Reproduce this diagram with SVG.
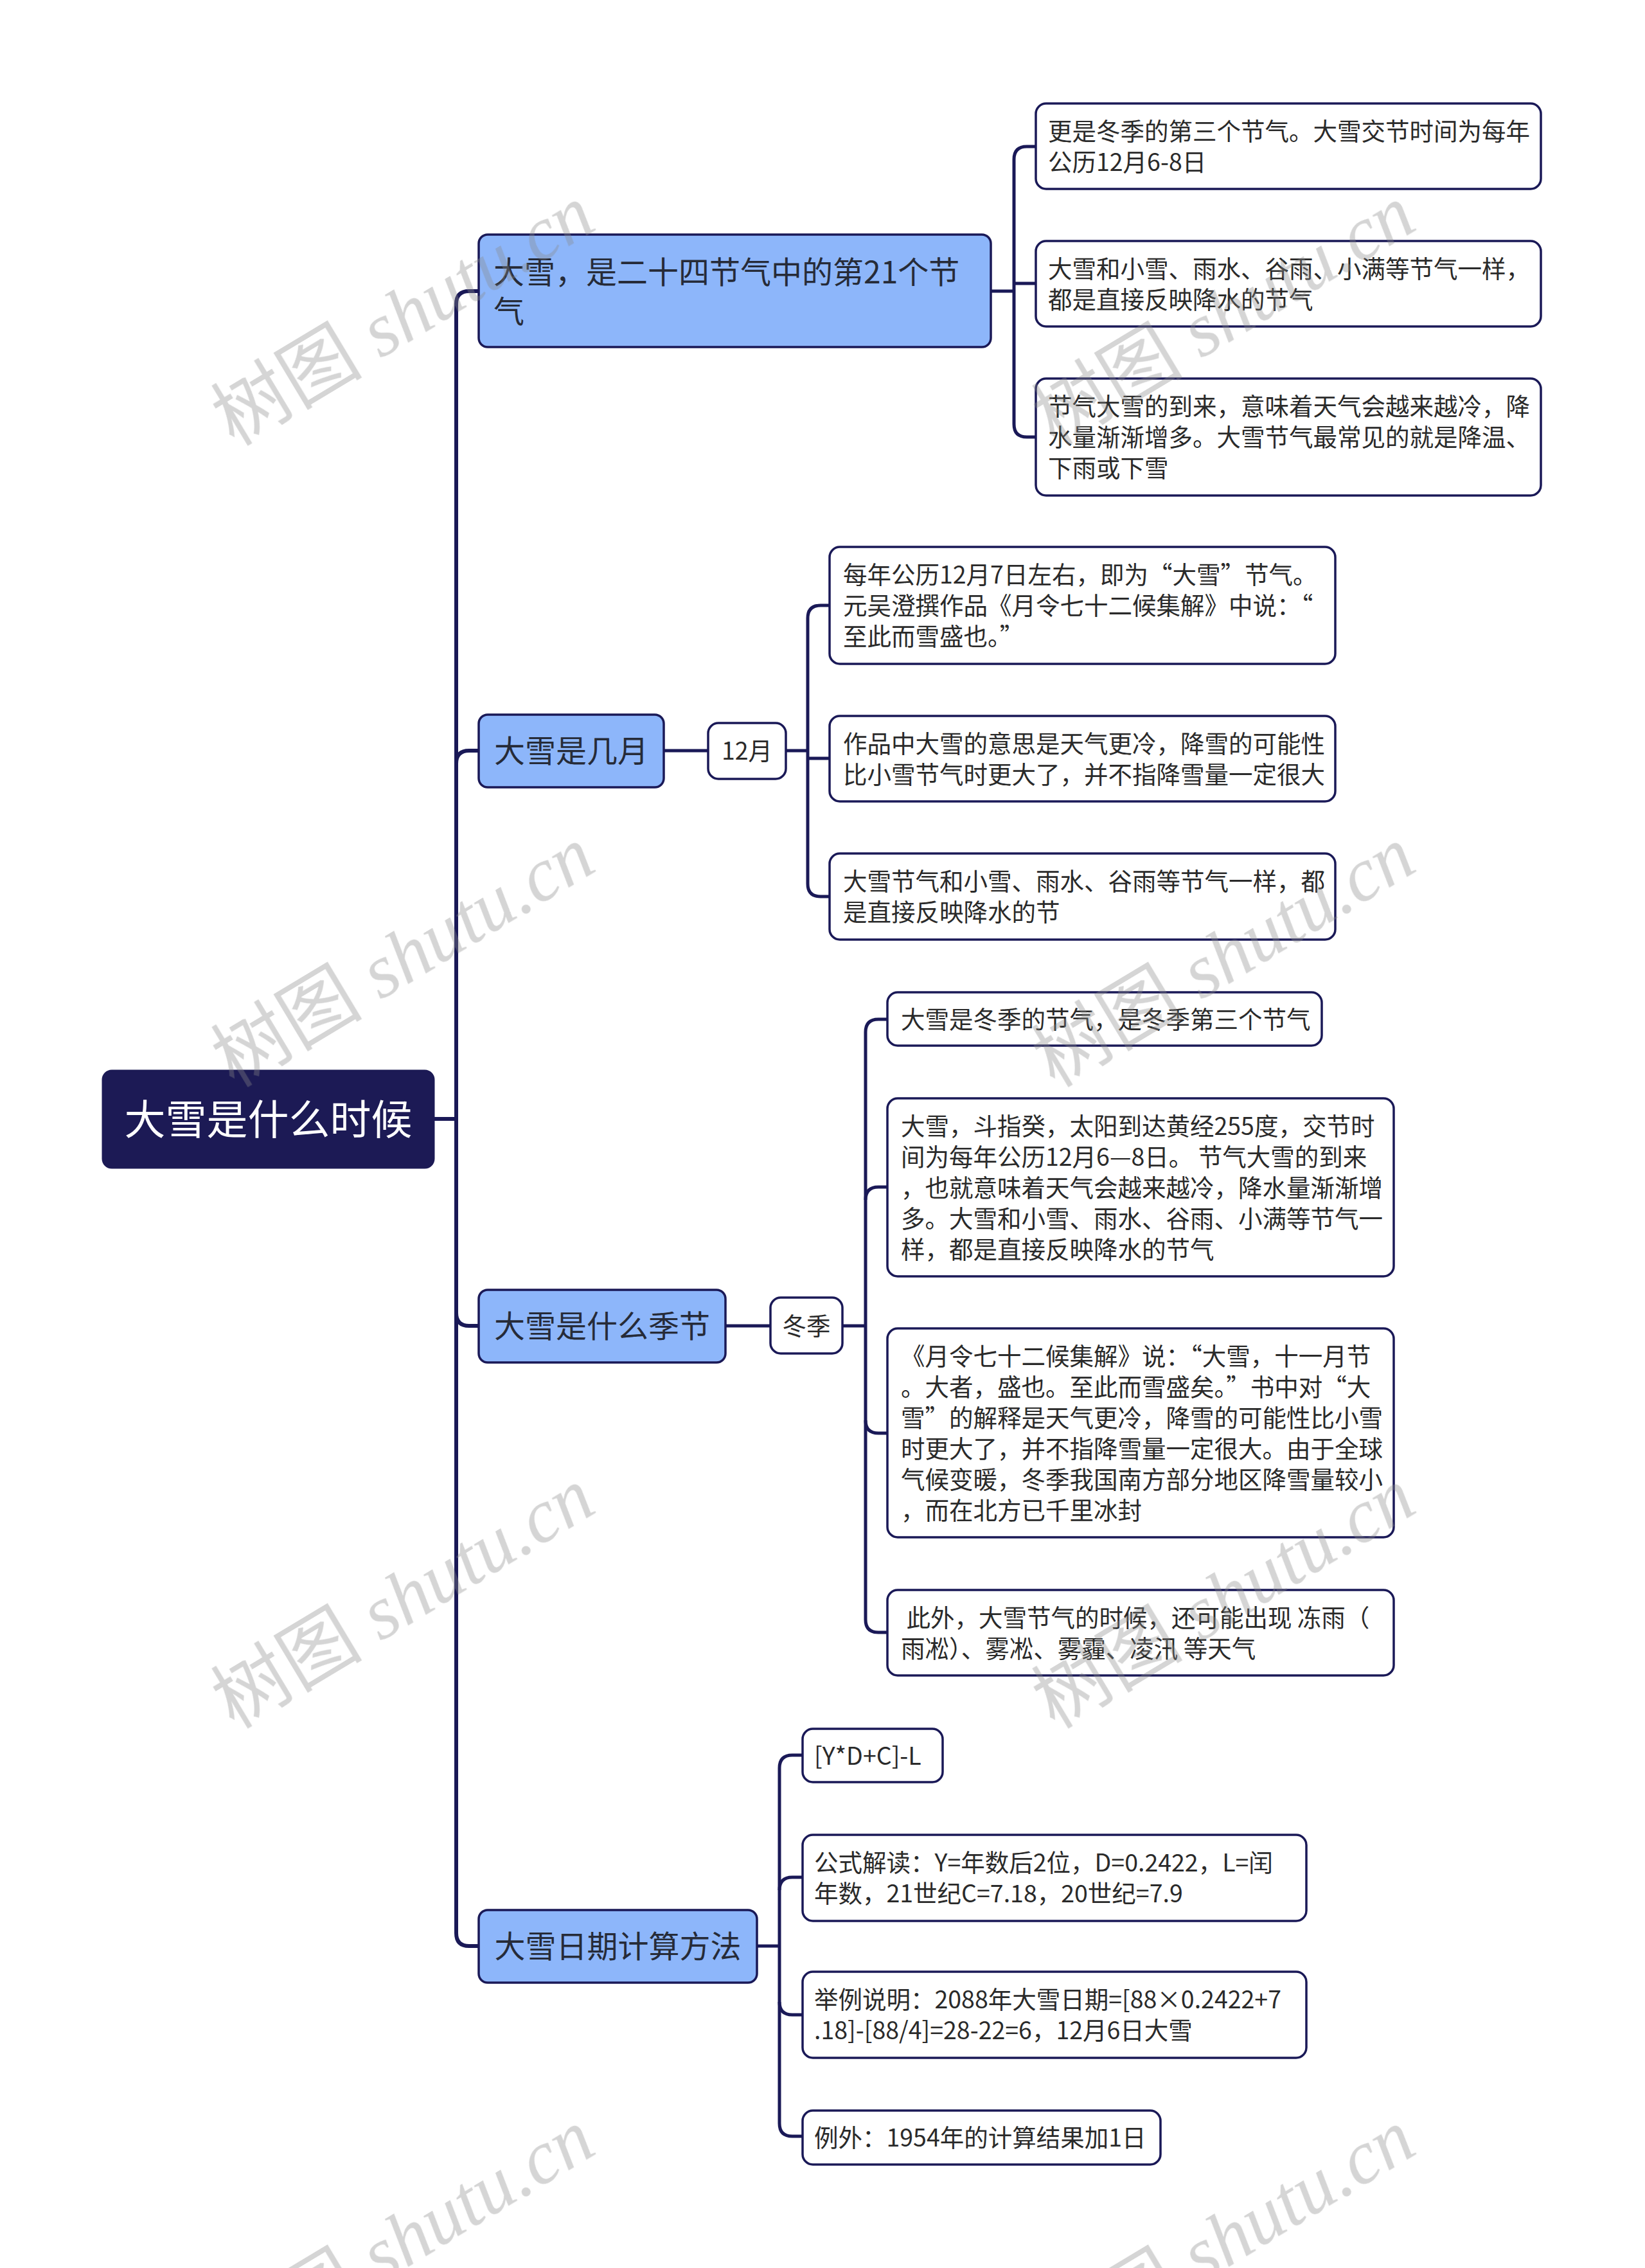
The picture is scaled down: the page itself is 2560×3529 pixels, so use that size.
<svg xmlns="http://www.w3.org/2000/svg" width="2560" height="3529" viewBox="0 0 2560 3529">
<style>
  .t { font-family: "Noto Sans CJK SC", "Noto Sans", sans-serif; }
  .root-box { fill: #1c1a55; stroke: #1c1a55; stroke-width: 3; }
  .root-txt { fill: #ffffff; font-size: 64px; text-anchor: middle; }
  .br-box { fill: #8db6fa; stroke: #1a1957; stroke-width: 3.5; }
  .br-txt { fill: #262b38; font-size: 48px; }
  .leaf-box { fill: #ffffff; stroke: #1a1957; stroke-width: 3.5; }
  .leaf-txt { fill: #2a2a2a; font-size: 37.5px; }
  .mid { text-anchor: middle; }
  .trunk { fill: none; stroke: #1a1957; stroke-width: 6; }
  .conn { fill: none; stroke: #1a1957; stroke-width: 5; }
  .wm { fill: #8a8a8a; opacity: 0.36; font-size: 118px; }
</style>

<g id="connectors">
  <path class="trunk" d="M745,453 H730 Q710,453 710,473 V3008 Q710,3028 730,3028 H745"/>
  <path class="trunk" d="M675,1741 H710"/>
  <path class="trunk" d="M710,1188 Q710,1168 730,1168 H745"/>
  <path class="trunk" d="M710,2043 Q710,2063 730,2063 H745"/>

  <path class="conn" d="M1542,453 H1578"/>
  <path class="conn" d="M1612,228 H1598 Q1578,228 1578,248 V660 Q1578,680 1598,680 H1612"/>
  <path class="conn" d="M1578,441 H1612"/>

  <path class="conn" d="M1033,1168 H1102"/>
  <path class="conn" d="M1223,1168 H1257"/>
  <path class="conn" d="M1291,942 H1277 Q1257,942 1257,962 V1375 Q1257,1395 1277,1395 H1291"/>
  <path class="conn" d="M1257,1180 H1291"/>

  <path class="conn" d="M1129,2063 H1199"/>
  <path class="conn" d="M1311,2063 H1347"/>
  <path class="conn" d="M1381,1586 H1367 Q1347,1586 1347,1606 V2520 Q1347,2540 1367,2540 H1381"/>
  <path class="conn" d="M1347,1867 Q1347,1847 1367,1847 H1381"/>
  <path class="conn" d="M1347,2210 Q1347,2230 1367,2230 H1381"/>

  <path class="conn" d="M1178,3028 H1213"/>
  <path class="conn" d="M1249,2731 H1233 Q1213,2731 1213,2751 V3304 Q1213,3324 1233,3324 H1249"/>
  <path class="conn" d="M1213,2941 Q1213,2921 1233,2921 H1249"/>
  <path class="conn" d="M1213,3115 Q1213,3135 1233,3135 H1249"/>
</g>

<g id="root">
  <rect class="root-box" x="160" y="1666" width="515" height="151" rx="14"/>
  <text class="t root-txt" x="417.5" y="1765">大雪是什么时候</text>
</g>

<g id="branch1">
  <rect class="br-box" x="745" y="365" width="797" height="175" rx="14"/>
  <text class="t br-txt" x="768" y="441">大雪，是二十四节气中的第21个节</text>
  <text class="t br-txt" x="768" y="502">气</text>
</g>
<g id="a1">
  <rect class="leaf-box" x="1612" y="161" width="786" height="133" rx="16"/>
  <text class="t leaf-txt" x="1631" y="217.5">更是冬季的第三个节气。大雪交节时间为每年</text>
  <text class="t leaf-txt" x="1631" y="265.5">公历12月6-8日</text>
</g>
<g id="a2">
  <rect class="leaf-box" x="1612" y="375" width="786" height="133" rx="16"/>
  <text class="t leaf-txt" x="1631" y="431.5">大雪和小雪、雨水、谷雨、小满等节气一样，</text>
  <text class="t leaf-txt" x="1631" y="479.5">都是直接反映降水的节气</text>
</g>
<g id="a3">
  <rect class="leaf-box" x="1612" y="589" width="786" height="182" rx="16"/>
  <text class="t leaf-txt" x="1631" y="646">节气大雪的到来，意味着天气会越来越冷，降</text>
  <text class="t leaf-txt" x="1631" y="694">水量渐渐增多。大雪节气最常见的就是降温、</text>
  <text class="t leaf-txt" x="1631" y="742">下雨或下雪</text>
</g>

<g id="branch2">
  <rect class="br-box" x="745" y="1112" width="288" height="113" rx="14"/>
  <text class="t br-txt mid" x="889" y="1186">大雪是几月</text>
</g>
<g id="month">
  <rect class="leaf-box" x="1102" y="1125" width="121" height="87" rx="16"/>
  <text class="t leaf-txt mid" x="1162.5" y="1182">12月</text>
</g>
<g id="b1">
  <rect class="leaf-box" x="1291" y="851" width="787" height="182" rx="16"/>
  <text class="t leaf-txt" x="1312" y="908">每年公历12月7日左右，即为“大雪”节气。</text>
  <text class="t leaf-txt" x="1312" y="956">元吴澄撰作品《月令七十二候集解》中说：“</text>
  <text class="t leaf-txt" x="1312" y="1004">至此而雪盛也。”</text>
</g>
<g id="b2">
  <rect class="leaf-box" x="1291" y="1114" width="787" height="133" rx="16"/>
  <text class="t leaf-txt" x="1312" y="1170.5">作品中大雪的意思是天气更冷，降雪的可能性</text>
  <text class="t leaf-txt" x="1312" y="1218.5">比小雪节气时更大了，并不指降雪量一定很大</text>
</g>
<g id="b3">
  <rect class="leaf-box" x="1291" y="1328" width="787" height="134" rx="16"/>
  <text class="t leaf-txt" x="1312" y="1385">大雪节气和小雪、雨水、谷雨等节气一样，都</text>
  <text class="t leaf-txt" x="1312" y="1433">是直接反映降水的节</text>
</g>

<g id="branch3">
  <rect class="br-box" x="745" y="2007" width="384" height="113" rx="14"/>
  <text class="t br-txt mid" x="937" y="2081">大雪是什么季节</text>
</g>
<g id="winter">
  <rect class="leaf-box" x="1199" y="2019" width="112" height="87" rx="16"/>
  <text class="t leaf-txt mid" x="1255" y="2077">冬季</text>
</g>
<g id="c1">
  <rect class="leaf-box" x="1381" y="1544" width="676" height="83" rx="16"/>
  <text class="t leaf-txt" x="1402" y="1599.5">大雪是冬季的节气，是冬季第三个节气</text>
</g>
<g id="c2">
  <rect class="leaf-box" x="1381" y="1709" width="788" height="277" rx="16"/>
  <text class="t leaf-txt" x="1402" y="1765.5">大雪，斗指癸，太阳到达黄经255度，交节时</text>
  <text class="t leaf-txt" x="1402" y="1813.5">间为每年公历12月6—8日。 节气大雪的到来</text>
  <text class="t leaf-txt" x="1402" y="1861.5">，也就意味着天气会越来越冷，降水量渐渐增</text>
  <text class="t leaf-txt" x="1402" y="1909.5">多。大雪和小雪、雨水、谷雨、小满等节气一</text>
  <text class="t leaf-txt" x="1402" y="1957.5">样，都是直接反映降水的节气</text>
</g>
<g id="c3">
  <rect class="leaf-box" x="1381" y="2067" width="788" height="325" rx="16"/>
  <text class="t leaf-txt" x="1402" y="2123.5">《月令七十二候集解》说：“大雪，十一月节</text>
  <text class="t leaf-txt" x="1402" y="2171.5">。大者，盛也。至此而雪盛矣。”书中对“大</text>
  <text class="t leaf-txt" x="1402" y="2219.5">雪”的解释是天气更冷，降雪的可能性比小雪</text>
  <text class="t leaf-txt" x="1402" y="2267.5">时更大了，并不指降雪量一定很大。由于全球</text>
  <text class="t leaf-txt" x="1402" y="2315.5">气候变暖，冬季我国南方部分地区降雪量较小</text>
  <text class="t leaf-txt" x="1402" y="2363.5">，而在北方已千里冰封</text>
</g>
<g id="c4">
  <rect class="leaf-box" x="1381" y="2474" width="788" height="133" rx="16"/>
  <text class="t leaf-txt" x="1402" y="2530.5" xml:space="preserve"> 此外，大雪节气的时候，还可能出现 冻雨（</text>
  <text class="t leaf-txt" x="1402" y="2578.5">雨凇）、雾凇、雾霾、凌汛 等天气</text>
</g>

<g id="branch4">
  <rect class="br-box" x="745" y="2972" width="433" height="113" rx="14"/>
  <text class="t br-txt mid" x="961.5" y="3046">大雪日期计算方法</text>
</g>
<g id="d1">
  <rect class="leaf-box" x="1249" y="2690" width="218" height="83" rx="16"/>
  <text class="t leaf-txt" x="1267" y="2745.5">[Y*D+C]-L</text>
</g>
<g id="d2">
  <rect class="leaf-box" x="1249" y="2855" width="784" height="134" rx="16"/>
  <text class="t leaf-txt" x="1267" y="2912">公式解读：Y=年数后2位，D=0.2422，L=闰</text>
  <text class="t leaf-txt" x="1267" y="2960">年数，21世纪C=7.18，20世纪=7.9</text>
</g>
<g id="d3">
  <rect class="leaf-box" x="1249" y="3068" width="784" height="134" rx="16"/>
  <text class="t leaf-txt" x="1267" y="3125">举例说明：2088年大雪日期=[88×0.2422+7</text>
  <text class="t leaf-txt" x="1267" y="3173">.18]-[88/4]=28-22=6，12月6日大雪</text>
</g>
<g id="d4">
  <rect class="leaf-box" x="1249" y="3284" width="557" height="84" rx="16"/>
  <text class="t leaf-txt" x="1267" y="3340">例外：1954年的计算结果加1日</text>
</g>

<g id="watermarks" class="wm">
  <text transform="translate(648,525) rotate(-31)" text-anchor="middle"><tspan font-family="Noto Sans CJK SC, sans-serif">树图</tspan><tspan font-family="Liberation Serif, serif" font-style="italic"> shutu.cn</tspan></text>
  <text transform="translate(1925,525) rotate(-31)" text-anchor="middle"><tspan font-family="Noto Sans CJK SC, sans-serif">树图</tspan><tspan font-family="Liberation Serif, serif" font-style="italic"> shutu.cn</tspan></text>
  <text transform="translate(648,1523) rotate(-31)" text-anchor="middle"><tspan font-family="Noto Sans CJK SC, sans-serif">树图</tspan><tspan font-family="Liberation Serif, serif" font-style="italic"> shutu.cn</tspan></text>
  <text transform="translate(1925,1523) rotate(-31)" text-anchor="middle"><tspan font-family="Noto Sans CJK SC, sans-serif">树图</tspan><tspan font-family="Liberation Serif, serif" font-style="italic"> shutu.cn</tspan></text>
  <text transform="translate(648,2521) rotate(-31)" text-anchor="middle"><tspan font-family="Noto Sans CJK SC, sans-serif">树图</tspan><tspan font-family="Liberation Serif, serif" font-style="italic"> shutu.cn</tspan></text>
  <text transform="translate(1925,2521) rotate(-31)" text-anchor="middle"><tspan font-family="Noto Sans CJK SC, sans-serif">树图</tspan><tspan font-family="Liberation Serif, serif" font-style="italic"> shutu.cn</tspan></text>
  <text transform="translate(648,3519) rotate(-31)" text-anchor="middle"><tspan font-family="Noto Sans CJK SC, sans-serif">树图</tspan><tspan font-family="Liberation Serif, serif" font-style="italic"> shutu.cn</tspan></text>
  <text transform="translate(1925,3519) rotate(-31)" text-anchor="middle"><tspan font-family="Noto Sans CJK SC, sans-serif">树图</tspan><tspan font-family="Liberation Serif, serif" font-style="italic"> shutu.cn</tspan></text>
</g>
</svg>
